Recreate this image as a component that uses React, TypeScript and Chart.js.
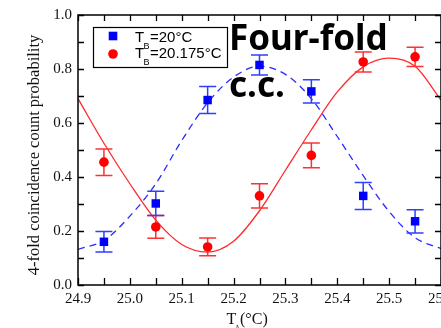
import React, { useEffect, useRef } from "react";
import { Chart, registerables } from "chart.js";

Chart.register(...registerables);

// Measured temperatures (°C) and four-fold coincidence count probabilities
const temps = [24.95, 25.05, 25.15, 25.25, 25.35, 25.45, 25.55];
const blueProb = [0.16, 0.302, 0.685, 0.815, 0.717, 0.33, 0.236];
const blueErr = [0.038, 0.045, 0.05, 0.037, 0.043, 0.05, 0.043];
const redProb = [0.455, 0.215, 0.141, 0.33, 0.48, 0.826, 0.845];
const redErr = [0.049, 0.042, 0.033, 0.045, 0.046, 0.037, 0.036];

// Fitted curves
const fitTemps = [24.9, 24.95, 25.0, 25.05, 25.1, 25.15, 25.2, 25.25, 25.3, 25.35, 25.4, 25.45, 25.5, 25.55, 25.6];
const blueFit = [0.132, 0.165, 0.255, 0.375, 0.535, 0.675, 0.77, 0.81, 0.78, 0.69, 0.55, 0.405, 0.272, 0.175, 0.135];
const redFit = [0.69, 0.525, 0.375, 0.24, 0.15, 0.122, 0.162, 0.275, 0.425, 0.575, 0.715, 0.808, 0.84, 0.81, 0.685];

const legendTexts = ["=20°C", "=20.175°C"];
const annotationLines = ["Four-fold", "c.c."];
const yTitle = "4-fold coincidence count probability";

const BLUE = "#0000ff";
const RED = "#ff0000";

const decorPlugin = {
  id: "decor",
  beforeDatasetDraw(chart: any, args: any) {
    const ds = chart.data.datasets[args.index];
    if (!ds.errors) return;
    const ctx = chart.ctx;
    const xs = chart.scales.x;
    const ys = chart.scales.y;
    ctx.save();
    ctx.strokeStyle = ds.errorColor;
    ctx.lineWidth = 1.5;
    ds.data.forEach((p: any, i: number) => {
      const x = xs.getPixelForValue(p.x);
      const yt = ys.getPixelForValue(p.y + ds.errors[i]);
      const yb = ys.getPixelForValue(p.y - ds.errors[i]);
      ctx.beginPath();
      ctx.moveTo(x, yt);
      ctx.lineTo(x, yb);
      ctx.moveTo(x - 8.5, yt);
      ctx.lineTo(x + 8.5, yt);
      ctx.moveTo(x - 8.5, yb);
      ctx.lineTo(x + 8.5, yb);
      ctx.stroke();
    });
    ctx.restore();
  },
  afterDraw(chart: any) {
    const ctx = chart.ctx;
    const { left, right, top, bottom } = chart.chartArea;
    const xs = chart.scales.x;
    const ys = chart.scales.y;
    ctx.save();
    // frame
    ctx.strokeStyle = "#000";
    ctx.lineWidth = 1.5;
    ctx.strokeRect(left, top, right - left, bottom - top);
    // ticks
    ctx.lineWidth = 1.3;
    ctx.beginPath();
    for (let k = 0; k <= 14; k++) {
      const x = Math.round(xs.getPixelForValue(24.9 + k * 0.05)) + 0.5;
      ctx.moveTo(x, bottom);
      ctx.lineTo(x, bottom - 7);
      ctx.moveTo(x, top);
      ctx.lineTo(x, top + 6);
    }
    for (let k = 0; k <= 10; k++) {
      const y = Math.round(ys.getPixelForValue(k * 0.1)) + 0.5;
      ctx.moveTo(left, y);
      ctx.lineTo(left + 6, y);
      ctx.moveTo(right, y);
      ctx.lineTo(right - 6, y);
    }
    ctx.stroke();

    // y title
    ctx.fillStyle = "#111";
    ctx.save();
    ctx.translate(35, 155);
    ctx.rotate(-Math.PI / 2);
    ctx.font = '16.5px "Liberation Serif"';
    ctx.textAlign = "center";
    ctx.textBaseline = "middle";
    ctx.fillText(yTitle, 0, 0);
    ctx.restore();

    // x title
    ctx.textAlign = "left";
    ctx.textBaseline = "alphabetic";
    ctx.font = '16px "Liberation Serif"';
    ctx.fillText("T", 226.5, 323.5);
    ctx.fillText("(°C)", 240, 323.5);
    ctx.font = '8px "Liberation Serif"';
    ctx.fillText("A", 234.5, 330.5);

    // legend
    ctx.fillStyle = "#fff";
    ctx.fillRect(93.5, 27.5, 134, 40);
    ctx.strokeStyle = "#000";
    ctx.lineWidth = 1.2;
    ctx.strokeRect(93.5, 27.5, 134, 40);
    ctx.fillStyle = BLUE;
    ctx.fillRect(108.7, 31.7, 8.6, 8.6);
    ctx.fillStyle = RED;
    ctx.beginPath();
    ctx.arc(113, 54, 4.8, 0, Math.PI * 2);
    ctx.fill();
    ctx.fillStyle = "#000";
    const rows = [41.7, 58.3];
    rows.forEach((base, i) => {
      ctx.font = '15px "Liberation Sans"';
      ctx.fillText("T", 135, base);
      ctx.fillText(legendTexts[i], 150, base);
      ctx.font = '9px "Liberation Sans"';
      ctx.fillText("B", 143.5, base + 6.8);
    });

    // annotation
    ctx.font = 'bold 35px "Noto Sans"';
    ctx.fillStyle = "#000";
    ctx.fillText(annotationLines[0], 229, 50);
    ctx.fillText(annotationLines[1], 229, 97);
    ctx.restore();
  },
};

export default function App() {
  const ref = useRef<HTMLCanvasElement | null>(null);
  useEffect(() => {
    if (!ref.current) return;
    const toXY = (xs: number[], ys: number[]) => xs.map((x, i) => ({ x, y: ys[i] }));
    const chart = new Chart(ref.current, {
      type: "scatter",
      data: {
        datasets: [
          {
            label: "TB=20°C",
            data: toXY(temps, blueProb),
            errors: blueErr,
            errorColor: "#2f3fff",
            pointStyle: "rect",
            pointRadius: 6,
            backgroundColor: BLUE,
            borderColor: BLUE,
            borderWidth: 0,
          } as any,
          {
            label: "TB=20.175°C",
            data: toXY(temps, redProb),
            errors: redErr,
            errorColor: "#ff3030",
            pointStyle: "circle",
            pointRadius: 4.8,
            backgroundColor: RED,
            borderColor: RED,
            borderWidth: 0,
          } as any,
          {
            label: "fit 20",
            data: toXY(fitTemps, blueFit),
            showLine: true,
            pointRadius: 0,
            borderColor: "#2a2aff",
            borderWidth: 1.3,
            borderDash: [7, 5],
            cubicInterpolationMode: "monotone",
          } as any,
          {
            label: "fit 20.175",
            data: toXY(fitTemps, redFit),
            showLine: true,
            pointRadius: 0,
            borderColor: "#ff2a2a",
            borderWidth: 1.3,
            cubicInterpolationMode: "monotone",
          } as any,
        ],
      },
      options: {
        responsive: false,
        animation: false,
        devicePixelRatio: 1,
        layout: { padding: { left: 0, right: 39, top: 14, bottom: 0 } },
        plugins: { legend: { display: false }, tooltip: { enabled: false } },
        scales: {
          x: {
            type: "linear",
            min: 24.9,
            max: 25.6,
            grid: { display: false, drawTicks: false },
            border: { display: false },
            ticks: {
              stepSize: 0.1,
              padding: 5,
              color: "#111",
              font: { family: "Liberation Serif", size: 15 },
              maxRotation: 0,
              autoSkip: false,
              callback: (v: any) => Number(v).toFixed(1),
            },
            afterFit: (s: any) => {
              s.height = 43;
            },
          },
          y: {
            type: "linear",
            min: 0,
            max: 1,
            grid: { display: false, drawTicks: false },
            border: { display: false },
            ticks: {
              stepSize: 0.2,
              padding: 6,
              color: "#111",
              font: { family: "Liberation Serif", size: 15 },
              callback: (v: any) => Number(v).toFixed(1),
            },
            afterFit: (s: any) => {
              s.width = 78;
            },
          },
        },
      } as any,
      plugins: [decorPlugin],
    });
    return () => chart.destroy();
  }, []);
  return (
    <div
      style={{
        position: "fixed",
        left: 0,
        top: 0,
        width: 441,
        height: 328,
        overflow: "hidden",
        background: "#fff",
      }}
    >
      <canvas ref={ref} width={480} height={328} style={{ display: "block", width: 480, height: 328 }} />
    </div>
  );
}
